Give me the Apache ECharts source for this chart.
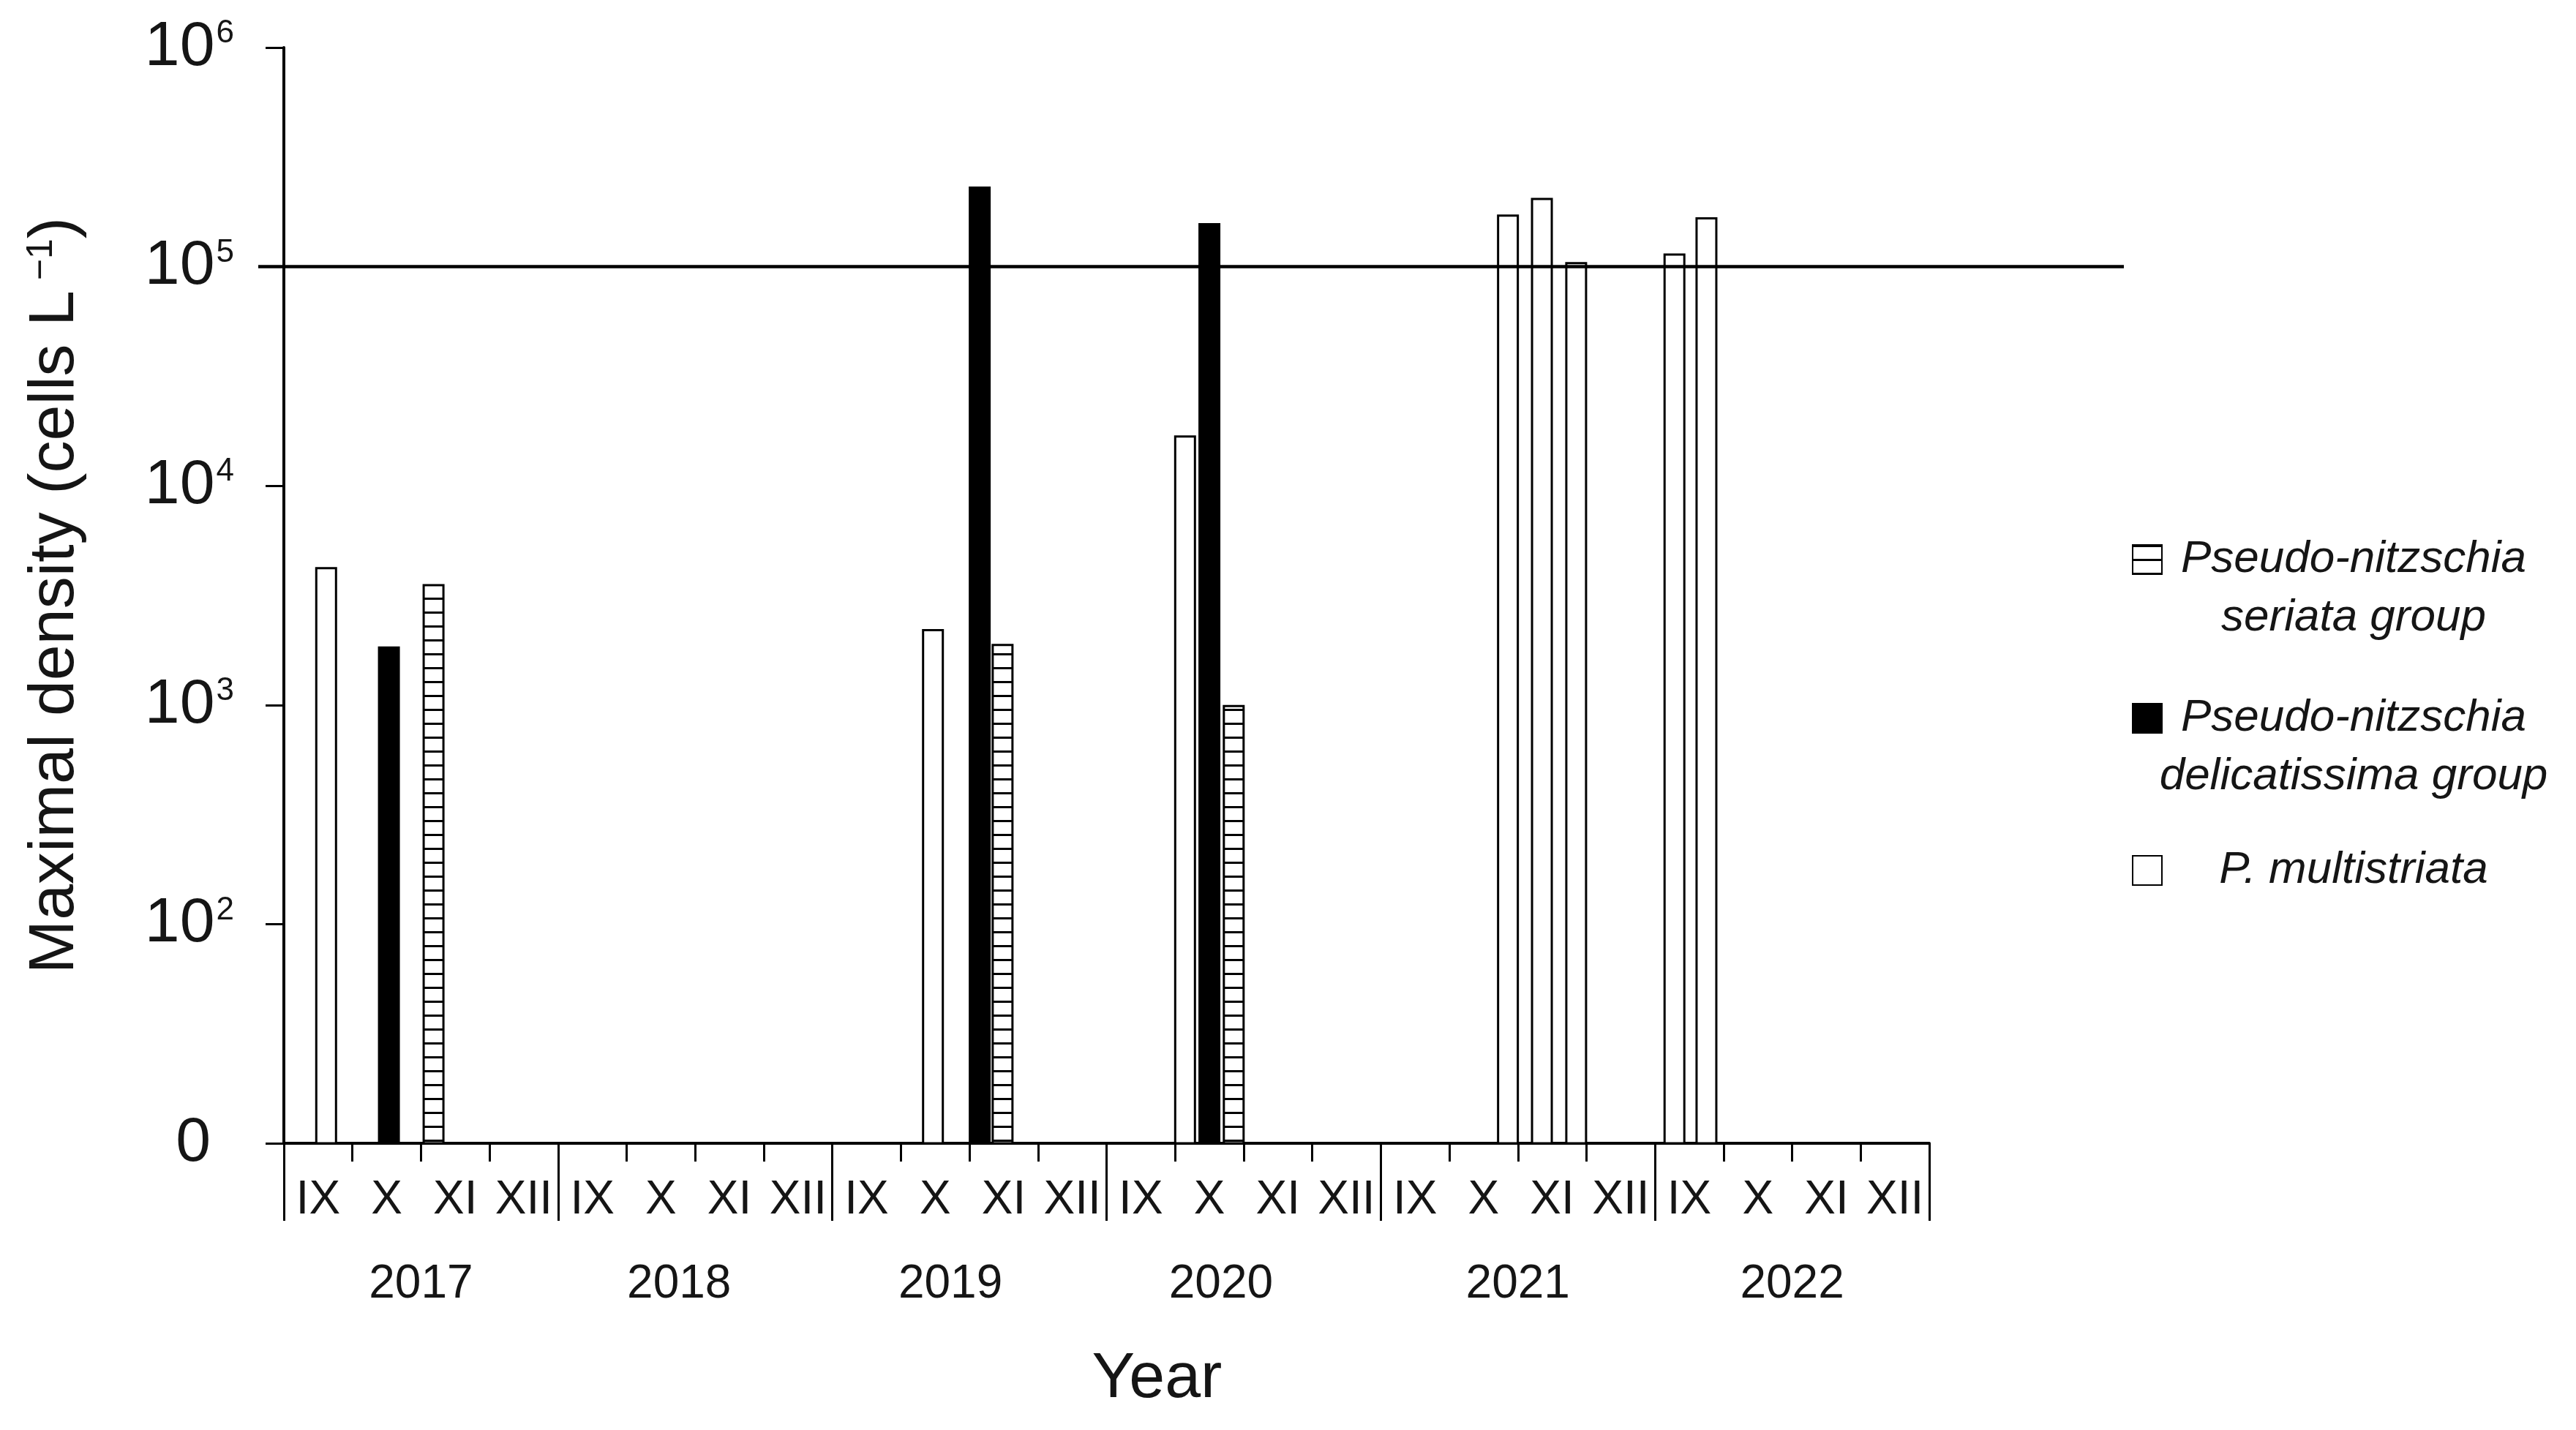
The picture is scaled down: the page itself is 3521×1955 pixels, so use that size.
<!DOCTYPE html>
<html>
<head>
<meta charset="utf-8">
<script src="https://cdn.jsdelivr.net/npm/echarts@6/dist/echarts.min.js"></script>
<style>
html,body{margin:0;padding:0;background:#fff;}
#chart{width:3521px;height:1955px;}
</style>
</head>
<body>
<div id="chart"></div>
<script>
// ---------------- data ----------------
const years = ['2017', '2018', '2019', '2020', '2021', '2022'];
const months = ['IX', 'X', 'XI', 'XII'];
const firstMonth = 9;

const seriesNames = ['Pseudo-nitzschia seriata group', 'Pseudo-nitzschia delicatissima group', 'P. multistriata'];

// sampling dates and maximal densities (cells L-1)
const seriataDates = ['2017-11-06', '2019-11-15', '2020-10-27'];
const seriataValues = [3560, 1900, 1000];

const delicatissimaDates = ['2017-10-17', '2019-11-05', '2020-10-16'];
const delicatissimaValues = [1850, 232000, 158000];

const multistriataDates = ['2017-09-19', '2019-10-15', '2020-10-05', '2021-10-27', '2021-11-11', '2021-11-26', '2022-09-09', '2022-09-23'];
const multistriataValues = [4260, 2220, 17000, 173000, 206000, 105000, 115000, 168000];

const threshold = 100000;

// ---------------- helpers ----------------
const FONT = "'Liberation Sans', Arial, Helvetica, sans-serif";
const TXT = '#151515';

// position of a date on the compressed season axis (4 months per year)
function seasonPos(d) {
  const p = d.split('-').map(Number);
  const daysInMonth = new Date(p[0], p[1], 0).getDate();
  return years.indexOf(String(p[0])) * months.length + (p[1] - firstMonth) + (p[2] - 0.5) / daysInMonth;
}
function toPoints(dates, values) {
  return dates.map((d, i) => [seasonPos(d), values[i]]);
}
function hatchPattern() {
  const c = document.createElement('canvas');
  c.width = 8; c.height = 19;
  const g = c.getContext('2d');
  g.fillStyle = '#ffffff'; g.fillRect(0, 0, 8, 19);
  g.fillStyle = '#000000'; g.fillRect(0, 0, 8, 3);
  return c;
}

const monthCats = [];
years.forEach(y => months.forEach(m => monthCats.push(y + '|' + m)));

const chart = echarts.init(document.getElementById('chart'), null, {renderer: 'canvas'});

const barCommon = {
  type: 'bar',
  xAxisIndex: 0,
  yAxisIndex: 0,
  barWidth: 30,
  barGap: '-100%',
  z: 2,
  silent: true,
  clip: true
};

const legendCommon = {
  orient: 'vertical',
  left: 2914,
  padding: 0,
  itemWidth: 40,
  itemHeight: 40,
  icon: 'rect',
  selectedMode: false,
  textStyle: {
    fontFamily: FONT, fontStyle: 'italic', fontSize: 62, color: TXT,
    width: 514, lineHeight: 80,
    rich: {c: {align: 'center', fontFamily: FONT, fontStyle: 'italic', fontSize: 62, lineHeight: 80, color: TXT}}
  }
};

// label placement tweaks for year labels (style only)
const yearLabelStyle = {fontFamily: FONT, fontSize: 64, color: TXT};
const yearRich = {
  n: Object.assign({}, yearLabelStyle),
  l1: Object.assign({}, yearLabelStyle, {padding: [0, 44, 0, 0]}),
  l2: Object.assign({}, yearLabelStyle, {padding: [0, 52, 0, 0]}),
  l3: Object.assign({}, yearLabelStyle, {padding: [0, 62, 0, 0]})
};
const yearRichKey = {'2018': 'l1', '2019': 'l2', '2020': 'l3'};

const option = {
  backgroundColor: '#ffffff',
  animation: false,
  grid: [
    {left: 388, right: 884, top: 65, bottom: 392, containLabel: false},
    {left: 353, right: 618, top: 65, bottom: 392, containLabel: false}
  ],
  legend: [
    Object.assign({}, legendCommon, {
      top: 645, data: [seriesNames[0]],
      formatter: () => '{c|Pseudo-nitzschia}\n{c|seriata group}',
      textStyle: Object.assign({}, legendCommon.textStyle, {padding: [80, 0, 0, 0]})
    }),
    Object.assign({}, legendCommon, {
      top: 862, data: [seriesNames[1]],
      formatter: () => '{c|Pseudo-nitzschia}\n{c|delicatissima group}',
      textStyle: Object.assign({}, legendCommon.textStyle, {padding: [80, 0, 0, 0]})
    }),
    Object.assign({}, legendCommon, {
      top: 1150, data: [seriesNames[2]],
      formatter: () => '{c|P. multistriata}'
    })
  ],
  xAxis: [
    { // bar positions (dates)
      type: 'value', gridIndex: 0, position: 'bottom', min: 0, max: years.length * months.length,
      show: false
    },
    { // months
      type: 'category', gridIndex: 0, position: 'bottom', data: monthCats, boundaryGap: true,
      axisLine: {show: true, lineStyle: {color: '#000', width: 4}},
      axisTick: {show: true, interval: 0, length: 25, lineStyle: {color: '#000', width: 3}},
      axisLabel: {interval: 0, margin: 46, fontFamily: FONT, fontSize: 64, color: TXT,
        formatter: v => v.split('|')[1]},
      splitLine: {show: false}
    },
    { // years
      type: 'category', gridIndex: 0, position: 'bottom', data: years, boundaryGap: true,
      axisLine: {show: false},
      axisTick: {show: true, interval: 0, length: 106, lineStyle: {color: '#000', width: 3}},
      axisLabel: {interval: 0, margin: 161, fontFamily: FONT, fontSize: 64, color: TXT,
        formatter: v => '{' + (yearRichKey[v] || 'n') + '|' + v + '}',
        rich: yearRich},
      splitLine: {show: false},
      name: 'Year', nameLocation: 'middle', nameGap: 279,
      nameTextStyle: {fontFamily: FONT, fontSize: 88, color: TXT, padding: [0, 0, 0, 138]}
    },
    {type: 'value', gridIndex: 1, min: 0, max: 1, show: false}
  ],
  yAxis: [
    {
      type: 'log', logBase: 10, gridIndex: 0, min: 10, max: 1000000,
      axisLine: {show: true, lineStyle: {color: '#000', width: 4}},
      axisTick: {show: true, length: 25, lineStyle: {color: '#000', width: 3}},
      splitLine: {show: false},
      minorTick: {show: false},
      axisLabel: {
        margin: 68, fontFamily: FONT, fontSize: 86, color: TXT,
        formatter: v => {
          const e = Math.round(Math.log10(v));
          return e === 1 ? '{z|0}' : '10{s|' + e + '}';
        },
        rich: {
          s: {fontFamily: FONT, fontSize: 44, color: TXT, verticalAlign: 'top', padding: [2, 0, 0, 2]},
          z: {fontFamily: FONT, fontSize: 86, color: TXT, padding: [0, 32, 0, 0]}
        }
      },
      name: 'Maximal density (cells L{s| \u22121})',
      nameLocation: 'middle', nameGap: 268,
      nameTextStyle: {fontFamily: FONT, fontSize: 88, color: TXT,
        rich: {s: {fontFamily: FONT, fontSize: 50, color: TXT, verticalAlign: 'top'}}}
    },
    {type: 'log', logBase: 10, gridIndex: 1, min: 10, max: 1000000, show: false}
  ],
  series: [
    Object.assign({}, barCommon, {
      name: seriesNames[0],
      data: toPoints(seriataDates, seriataValues),
      itemStyle: {color: {image: hatchPattern(), repeat: 'repeat'}, borderColor: '#000', borderWidth: 3}
    }),
    Object.assign({}, barCommon, {
      name: seriesNames[1],
      data: toPoints(delicatissimaDates, delicatissimaValues),
      itemStyle: {color: '#000000', borderColor: '#000', borderWidth: 3}
    }),
    Object.assign({}, barCommon, {
      name: seriesNames[2],
      data: toPoints(multistriataDates, multistriataValues),
      itemStyle: {color: '#ffffff', borderColor: '#000', borderWidth: 3}
    }),
    {
      type: 'line', name: 'threshold', xAxisIndex: 3, yAxisIndex: 1, data: [], z: 10, silent: true,
      markLine: {
        silent: true, symbol: ['none', 'none'], z: 10,
        label: {show: false},
        lineStyle: {color: '#000', width: 4.5, type: 'solid'},
        emphasis: {disabled: true},
        data: [{yAxis: threshold}]
      }
    }
  ]
};

chart.setOption(option);
</script>
</body>
</html>
